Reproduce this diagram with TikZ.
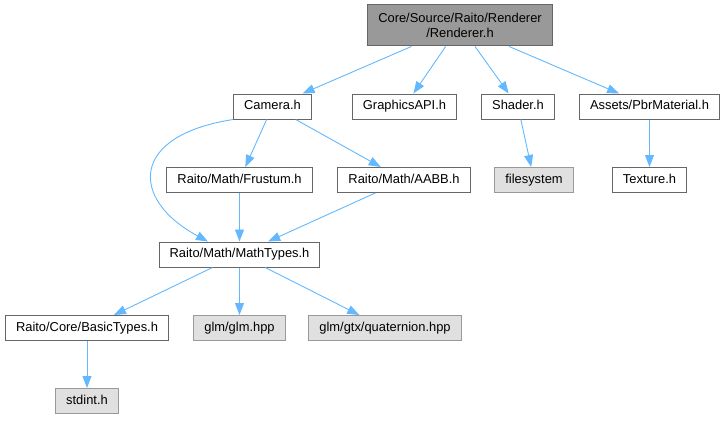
\documentclass[tikz,border=0pt]{standalone}
\usepackage{fontspec}
\setmainfont{Liberation Sans}
\usetikzlibrary{arrows.meta}
\definecolor{edgeblue}{HTML}{63B8FF}
\definecolor{boxline}{HTML}{666666}
\definecolor{sysline}{HTML}{999999}
\definecolor{sysfill}{HTML}{E0E0E0}
\definecolor{rootfill}{HTML}{999999}

\begin{document}
\begin{tikzpicture}[x=1pt,y=-1pt,
  font=\fontsize{12.9}{15}\selectfont,
  hdr/.style={draw=boxline,fill=white,line width=1pt,inner xsep=10.5pt,
    inner ysep=0pt,minimum height=25pt,text height=9.4pt,text depth=2.8pt},
  sys/.style={hdr,draw=sysline,fill=sysfill},
  rootbox/.style={draw=boxline,fill=rootfill,line width=1pt,inner xsep=10.5pt,
    inner ysep=0pt,minimum height=41pt,align=center},
  dep/.style={draw=edgeblue,line width=0.9pt,-{Triangle[length=12pt,width=9pt]}}]
\useasboundingbox (0,0) rectangle (727,420);

% top level
\node[rootbox] (renderer) at (460,25.5) {Core/Source/Raito/Renderer\\/Renderer.h};

% direct includes
\node[hdr] (camera) at (272.5,106.5) {Camera.h};
\node[hdr] (gapi) at (404.5,106.5) {GraphicsAPI.h};
\node[hdr] (shader) at (518,106.5) {Shader.h};
\node[hdr] (pbr) at (649.5,106.5) {Assets/PbrMaterial.h};

\node[hdr] (frustum) at (239.5,180) {Raito/Math/Frustum.h};
\node[hdr] (aabb) at (404,180) {Raito/Math/AABB.h};
\node[sys] (fs) at (534,180) {filesystem};
\node[hdr] (texture) at (649.5,180) {Texture.h};

\node[hdr] (math) at (239.5,254.5) {Raito/Math/MathTypes.h};

\node[hdr] (basic) at (87,328) {Raito/Core/BasicTypes.h};
\node[sys] (glm) at (239.5,328) {glm/glm.hpp};
\node[sys] (quat) at (385,328) {glm/gtx/quaternion.hpp};

\node[sys] (stdint) at (87,401) {stdint.h};

\draw[dep] (renderer) -- (camera);
\draw[dep] (renderer) -- (gapi);
\draw[dep] (renderer) -- (shader);
\draw[dep] (renderer) -- (pbr);

\draw[dep] (camera) -- (frustum);
\draw[dep] (camera) -- (aabb);
\draw[dep] (camera.south west) .. controls +(-104,16) and +(-78,-42) .. ([xshift=-31.5pt]math.north);
\draw[dep] (shader) -- (fs);
\draw[dep] (pbr) -- (texture);

\draw[dep] (frustum) -- (math);
\draw[dep] (aabb) -- (math);

\draw[dep] (math) -- (basic);
\draw[dep] (math) -- (glm);
\draw[dep] (math) -- (quat);
\draw[dep] (basic) -- (stdint);
\end{tikzpicture}
\end{document}
